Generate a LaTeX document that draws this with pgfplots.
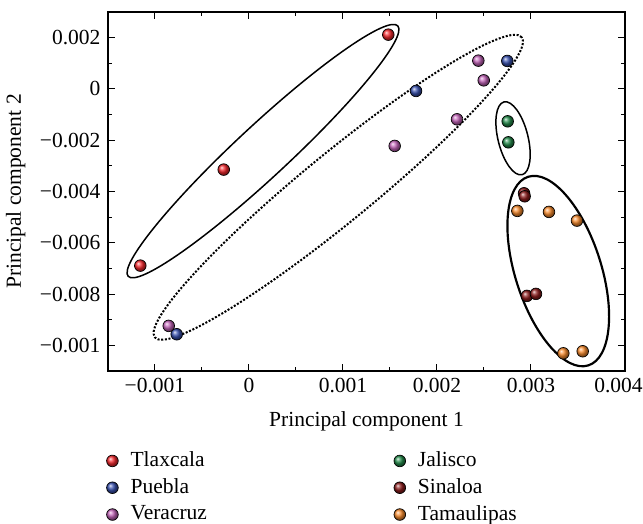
\documentclass[border=0pt]{standalone}
\usepackage{fontspec}
\setmainfont{Liberation Serif}
\usepackage{pgfplots}
\pgfplotsset{compat=1.18}
\usetikzlibrary{shapes.geometric}

\definecolor{tlred}{RGB}{245,40,45}
\definecolor{pblue}{RGB}{55,80,175}
\definecolor{vpurple}{RGB}{195,100,185}
\definecolor{jgreen}{RGB}{35,140,75}
\definecolor{sdark}{RGB}{140,28,28}
\definecolor{torange}{RGB}{250,140,45}

\begin{document}
\fontsize{12.9}{15}\selectfont
\begin{tikzpicture}
\begin{axis}[
    name=ax,
    scale only axis,
    width=310.2pt, height=215.4pt,
    xmin=-0.0015, xmax=0.004,
    ymin=-0.011, ymax=0.003,
    scaled x ticks=false, scaled y ticks=false,
    xtick={-0.001,0,0.001,0.002,0.003},
    xticklabels={−0.001,0,0.001,0.002,0.003},
    extra x ticks={0.004},
    extra x tick labels={0.004},
    extra x tick style={xticklabel style={xshift=-3.9pt}},
    ytick={-0.01,-0.008,-0.006,-0.004,-0.002,0,0.002},
    yticklabels={−0.001,−0.008,−0.006,−0.004,−0.002,0,0.002},
    minor x tick num=1, minor y tick num=1,
    major tick length=4pt, minor tick length=2.5pt,
    tick style={black, line width=0.6pt},
    axis line style={line width=0.7pt},
    xlabel={Principal component 1},
    ylabel={Principal component 2},
    xlabel style={yshift=-2pt},
    every mark/.append style={xscale=1.12},
    legend columns=2,
    legend cell align=left,
    legend style={at={(-0.004,-0.215)}, anchor=north west, draw=none,
        inner sep=0pt, row sep=1.2pt,
        /tikz/every odd column/.append style={column sep=5.2pt},
        /tikz/every even column/.append style={column sep=110pt}},
]
% legend fills row by row: left column Tlaxcala/Puebla/Veracruz, right column Jalisco/Sinaloa/Tamaulipas
\addplot[only marks, mark=ball, mark size=3.5pt, mark options={ball color=tlred}] coordinates {
    (0.001482,0.002117) (-0.000269,-0.003146) (-0.001156,-0.00689)
};
\addlegendentry{Tlaxcala}
\addplot[only marks, mark=ball, mark size=3.5pt, mark options={ball color=jgreen}] coordinates {
    (0.002752,-0.001263) (0.002759,-0.002082)
};
\addlegendentry{Jalisco}
\addplot[only marks, mark=ball, mark size=3.5pt, mark options={ball color=pblue}] coordinates {
    (-0.000769,-0.009567) (0.001777,-0.000078) (0.002748,0.001092)
};
\addlegendentry{Puebla}
\addplot[only marks, mark=ball, mark size=3.5pt, mark options={ball color=sdark}] coordinates {
    (0.002926,-0.00407) (0.002933,-0.004187) (0.002957,-0.00807) (0.003053,-0.007992)
};
\addlegendentry{Sinaloa}
\addplot[only marks, mark=ball, mark size=3.5pt, mark options={ball color=vpurple}] coordinates {
    (-0.000854,-0.00924) (0.00155,-0.002222) (0.002213,-0.001185)
    (0.00244,0.001103) (0.002497,0.000335)
};
\addlegendentry{Veracruz}
\addplot[only marks, mark=ball, mark size=3.5pt, mark options={ball color=torange}] coordinates {
    (0.002855,-0.004756) (0.003191,-0.004795) (0.003489,-0.005135)
    (0.003344,-0.01031) (0.00355,-0.01023)
};
\addlegendentry{Tamaulipas}

% group ellipses
\node[draw, ellipse, inner sep=0pt, line width=0.9pt, minimum width=220.8pt, minimum height=31.2pt, rotate=42.9]
    at (axis cs:0.000149,-0.002425) {};
\node[draw, ellipse, inner sep=0pt, line width=1.2pt, densely dotted, minimum width=284.4pt, minimum height=41.4pt, rotate=39.3]
    at (axis cs:0.00095,-0.003836) {};
\node[draw, ellipse, inner sep=0pt, line width=0.9pt, minimum width=45pt, minimum height=18pt, rotate=-76]
    at (axis cs:0.002809,-0.001926) {};
\node[draw, ellipse, inner sep=0pt, line width=1.3pt, minimum width=118.8pt, minimum height=51.6pt, rotate=-72.3]
    at (axis cs:0.00329,-0.007103) {};
\end{axis}
\pgfresetboundingbox
\path[use as bounding box] (ax.south west) ++(-64.8pt,-91.2pt) rectangle ++(385.8pt,313.8pt);
\end{tikzpicture}
\end{document}
